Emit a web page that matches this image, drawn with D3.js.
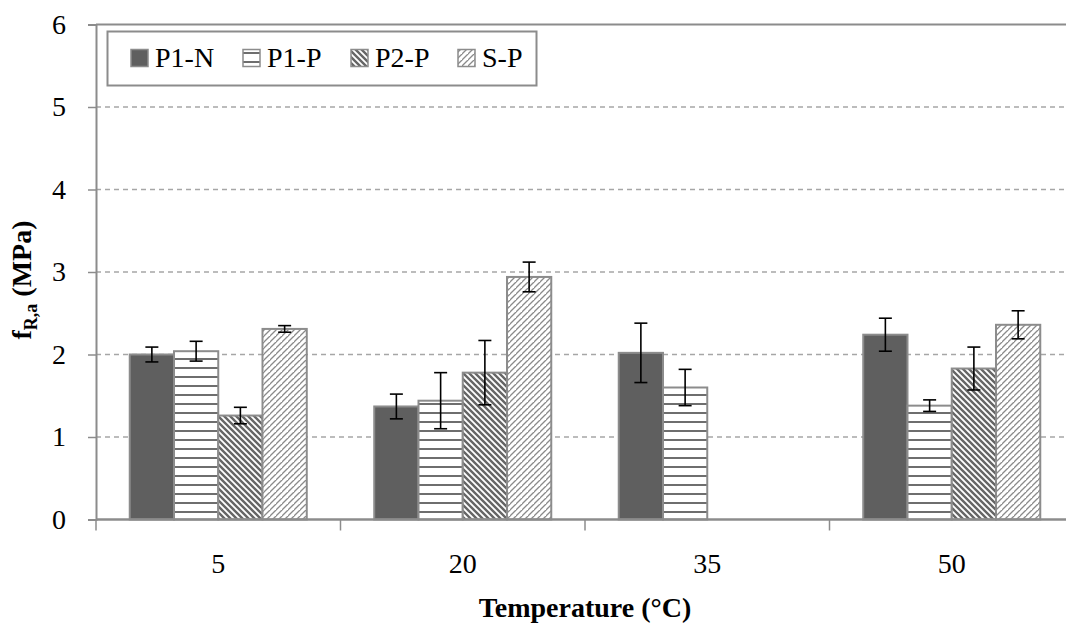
<!DOCTYPE html>
<html>
<head>
<meta charset="utf-8">
<script src="https://cdn.jsdelivr.net/npm/d3@7"></script>
<style>
  body { margin: 0; background: #fff; }
  svg { display: block; overflow: hidden; }
</style>
</head>
<body>
<div id="chart"></div>
<script>
// temperatures on the x axis
var temps = ['5', '20', '35', '50'];
var series = ['P1-N', 'P1-P', 'P2-P', 'S-P'];

// mean f_R,a per series, one value per temperature (null = not tested)
var p1n = [2.00, 1.37, 2.02, 2.24];
var p1p = [2.04, 1.44, 1.60, 1.38];
var p2p = [1.26, 1.78, null, 1.83];
var sp  = [2.31, 2.94, null, 2.36];

// error bar half-widths
var p1nErr = [0.09, 0.15, 0.36, 0.20];
var p1pErr = [0.12, 0.34, 0.22, 0.07];
var p2pErr = [0.10, 0.39, null, 0.26];
var spErr  = [0.04, 0.18, null, 0.17];

var yTicks = [0, 1, 2, 3, 4, 5, 6];

var width = 1066, height = 626;
var plotLeft = 96, plotTop = 24.5, plotBottom = 519.5, plotRight = 1074;
var mainFont = '"Palatino Linotype", "Book Antiqua", Palatino, "Liberation Serif", serif';
var axisGrey = '#8c8c8c';
var fontSize = '28px';

var values = [p1n, p1p, p2p, sp];
var errors = [p1nErr, p1pErr, p2pErr, spErr];

window.onload = function() {
    render();
};

function render() {
    var svg = d3.select('#chart').append('svg')
        .attr('width', width)
        .attr('height', height);

    makePatterns(svg);

    var x0 = d3.scaleBand().domain(temps).range([plotLeft, plotRight]).padding(0);
    var groupWidth = x0.bandwidth() * 0.724;
    var x1 = d3.scaleBand().domain(series)
        .range([(x0.bandwidth() - groupWidth) / 2, (x0.bandwidth() + groupWidth) / 2]);
    var y = d3.scaleLinear().domain([0, 6]).range([plotBottom, plotTop]);

    // dashed gridlines
    svg.append('g').selectAll('line')
        .data(yTicks.filter(function(t) { return t > 0 && t < 6; }))
        .enter().append('line')
        .attr('x1', plotLeft).attr('x2', width)
        .attr('y1', function(d) { return y(d); })
        .attr('y2', function(d) { return y(d); })
        .style('stroke', '#a6a6a6')
        .style('stroke-width', 1.3)
        .style('stroke-dasharray', '5,4');

    // top border of the plot area
    svg.append('line')
        .attr('x1', plotLeft).attr('x2', width)
        .attr('y1', y(6)).attr('y2', y(6))
        .style('stroke', axisGrey).style('stroke-width', 2);

    // bars
    for (var s = 0; s < series.length; s++) {
        var fill = fillFor(s);
        var ser = series[s];
        svg.append('g').selectAll('rect')
            .data(temps.map(function(t, i) { return { t: t, v: values[s][i] }; })
                .filter(function(d) { return d.v !== null; }))
            .enter().append('rect')
            .attr('x', function(d) { return x0(d.t) + x1(ser); })
            .attr('y', function(d) { return y(d.v); })
            .attr('width', x1.bandwidth())
            .attr('height', function(d) { return y(0) - y(d.v); })
            .style('fill', fill)
            .style('stroke', axisGrey)
            .style('stroke-width', 2);
    }

    // error bars
    var capHalf = 6.5;
    for (var s = 0; s < series.length; s++) {
        var g = svg.append('g');
        for (var i = 0; i < temps.length; i++) {
            var v = values[s][i];
            if (v === null) continue;
            var e = errors[s][i];
            var cx = x0(temps[i]) + x1(series[s]) + x1.bandwidth() / 2;
            g.append('line')
                .attr('x1', cx).attr('x2', cx)
                .attr('y1', y(v + e)).attr('y2', y(v - e))
                .style('stroke', '#000').style('stroke-width', 1.6);
            [v + e, v - e].forEach(function(val) {
                g.append('line')
                    .attr('x1', cx - capHalf).attr('x2', cx + capHalf)
                    .attr('y1', y(val)).attr('y2', y(val))
                    .style('stroke', '#000').style('stroke-width', 1.6);
            });
        }
    }

    // y axis
    var yAxis = svg.append('g')
        .attr('transform', 'translate(' + plotLeft + ',0)')
        .call(d3.axisLeft(y).tickValues(yTicks).tickSize(8).tickPadding(22).tickFormat(d3.format('d')));
    yAxis.select('.domain').style('stroke', axisGrey).style('stroke-width', 2);
    yAxis.selectAll('.tick line').style('stroke', axisGrey).style('stroke-width', 1.5);
    yAxis.selectAll('.tick text')
        .style('font-family', mainFont).style('font-size', fontSize).style('fill', '#000');

    // x axis: category labels and dividers between groups
    svg.append('line')
        .attr('x1', plotLeft).attr('x2', width)
        .attr('y1', plotBottom).attr('y2', plotBottom)
        .style('stroke', axisGrey).style('stroke-width', 2.5);
    var dividers = temps.map(function(t) { return x0(t); });
    svg.append('g').selectAll('line')
        .data(dividers)
        .enter().append('line')
        .attr('x1', function(d) { return d; }).attr('x2', function(d) { return d; })
        .attr('y1', plotBottom).attr('y2', plotBottom + 11)
        .style('stroke', axisGrey).style('stroke-width', 1.5);
    svg.append('g').selectAll('text')
        .data(temps)
        .enter().append('text')
        .attr('x', function(d) { return x0(d) + x0.bandwidth() / 2; })
        .attr('y', 573)
        .style('text-anchor', 'middle')
        .style('font-family', mainFont).style('font-size', fontSize)
        .text(function(d) { return d; });

    // axis titles
    svg.append('text')
        .attr('x', (plotLeft + plotRight) / 2)
        .attr('y', 617)
        .style('text-anchor', 'middle')
        .style('font-family', mainFont).style('font-size', fontSize).style('font-weight', 'bold')
        .text('Temperature (°C)');

    var yTitle = svg.append('text')
        .attr('transform', 'translate(31,' + ((plotTop + plotBottom) / 2 + 8) + ') rotate(-90)')
        .style('text-anchor', 'middle')
        .style('font-family', mainFont).style('font-size', fontSize).style('font-weight', 'bold');
    yTitle.append('tspan').text('f');
    yTitle.append('tspan').attr('dy', 6).style('font-size', '18px').text('R,a');
    yTitle.append('tspan').attr('dy', -6).text(' (MPa)');

    makeLegend(svg);
}

function fillFor(s) {
    if (s == 0)
        return '#5f5f5f';
    return 'url(#pat' + s + ')';
}

function makePatterns(svg) {
    var defs = svg.append('defs');

    // horizontal lines
    var p1 = defs.append('pattern').attr('id', 'pat1')
        .attr('patternUnits', 'userSpaceOnUse').attr('width', 9).attr('height', 9);
    p1.append('rect').attr('width', 9).attr('height', 9).style('fill', '#fff');
    p1.append('rect').attr('y', 7).attr('width', 9).attr('height', 2).style('fill', '#6e6e6e');

    // dark downward diagonal
    var p2 = defs.append('pattern').attr('id', 'pat2')
        .attr('patternUnits', 'userSpaceOnUse').attr('width', 6).attr('height', 6);
    p2.append('rect').attr('width', 6).attr('height', 6).style('fill', '#fff');
    p2.append('path').attr('d', 'M-1,-1 L7,7 M-4,2 L2,8 M4,-2 L10,4')
        .style('stroke', '#666').style('stroke-width', 2.4);

    // light upward diagonal
    var p3 = defs.append('pattern').attr('id', 'pat3')
        .attr('patternUnits', 'userSpaceOnUse').attr('width', 6).attr('height', 6);
    p3.append('rect').attr('width', 6).attr('height', 6).style('fill', '#fff');
    p3.append('path').attr('d', 'M-1,7 L7,-1 M-4,4 L2,-2 M4,10 L10,4')
        .style('stroke', '#8a8a8a').style('stroke-width', 1.3);
}

function makeLegend(svg) {
    var lg = svg.append('g');
    lg.append('rect')
        .attr('x', 107.5).attr('y', 31.5)
        .attr('width', 429).attr('height', 54)
        .style('fill', '#fff')
        .style('stroke', axisGrey).style('stroke-width', 2);

    var itemX = [131, 243, 351, 458];
    for (var s = 0; s < series.length; s++) {
        lg.append('rect')
            .attr('x', itemX[s]).attr('y', 49.5)
            .attr('width', 17).attr('height', 17)
            .style('fill', fillFor(s))
            .style('stroke', axisGrey).style('stroke-width', 1.5);
        lg.append('text')
            .attr('x', itemX[s] + 24).attr('y', 67)
            .style('font-family', mainFont).style('font-size', fontSize)
            .text(series[s]);
    }
}
</script>
</body>
</html>
